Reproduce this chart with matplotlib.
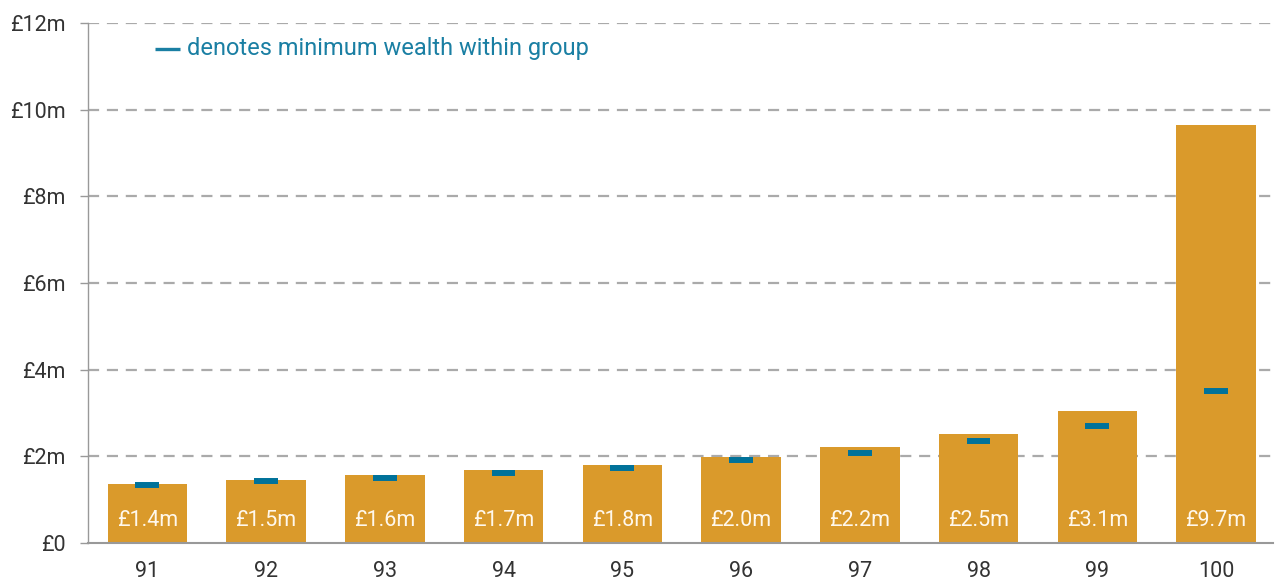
import matplotlib.pyplot as plt
import numpy as np

percentiles = ["91", "92", "93", "94", "95", "96", "97", "98", "99", "100"]
mean_wealth = [1.37, 1.46, 1.56, 1.68, 1.81, 1.98, 2.22, 2.52, 3.05, 9.65]
min_wealth = [1.33, 1.42, 1.51, 1.62, 1.74, 1.92, 2.08, 2.35, 2.71, 3.51]
bar_labels = ["£1.4m", "£1.5m", "£1.6m", "£1.7m", "£1.8m",
              "£2.0m", "£2.2m", "£2.5m", "£3.1m", "£9.7m"]
y_ticks = [0, 2, 4, 6, 8, 10, 12]
y_ticklabels = ["£0", "£2m", "£4m", "£6m", "£8m", "£10m", "£12m"]

bar_color = "#DA9A2B"
min_color = "#00729A"
note_color = "#1A7FA3"
text_color = "#333333"

plt.rcParams['font.family'] = ['Roboto', 'DejaVu Sans']

fig = plt.figure(figsize=(12.77, 5.85), dpi=100)
ax = fig.add_axes([0.0689, 0.0718, 0.928, 0.8889])

x = np.arange(len(percentiles))
ax.bar(x, mean_wealth, width=0.67, color=bar_color, zorder=2)
ax.hlines(min_wealth, x - 0.1, x + 0.1, color=min_color, linewidth=4.3, zorder=3)

for xi, lab in zip(x, bar_labels):
    ax.text(xi, 0.53, lab, ha="center", va="center", color="#FFF8EC",
            fontsize=15.5, zorder=4)

ax.set_xlim(-0.5, 9.48)
ax.set_ylim(0, 12)
ax.set_xticks(x)
ax.set_xticklabels(percentiles)
ax.set_yticks(y_ticks)
ax.set_yticklabels(y_ticklabels)
ax.tick_params(axis="both", labelsize=15.5, labelcolor=text_color)
ax.tick_params(axis="y", length=6, width=1, color="#999999", pad=10)
ax.tick_params(axis="x", length=0, pad=13)

for yv in y_ticks[1:]:
    ax.axhline(yv, color="#AAAAAA", linewidth=1.6, linestyle=(0, (5, 3.5)), zorder=1)

for side in ["top", "right"]:
    ax.spines[side].set_visible(False)
ax.spines["left"].set_color("#999999")
ax.spines["left"].set_linewidth(1.0)
ax.spines["bottom"].set_color("#999999")
ax.spines["bottom"].set_linewidth(1.5)

ax.plot([0.0565, 0.0776], [0.95, 0.95], transform=ax.transAxes,
        color=note_color, linewidth=2.4, solid_capstyle="butt")
ax.text(0.0835, 0.95, "denotes minimum wealth within group", transform=ax.transAxes,
        ha="left", va="center", color=note_color, fontsize=17)

fig.savefig("out.png", dpi=100)
